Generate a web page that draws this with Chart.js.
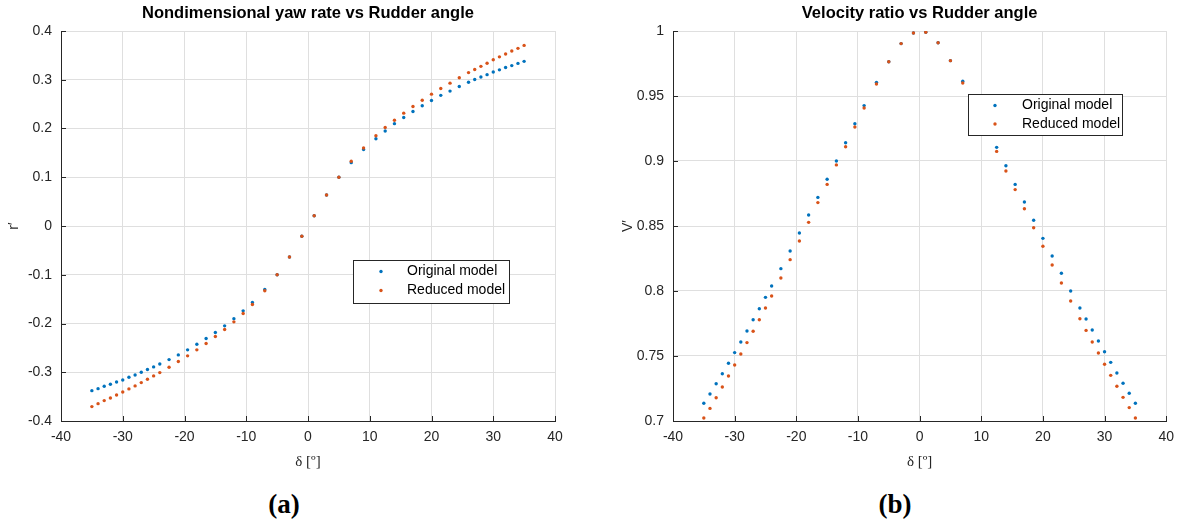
<!DOCTYPE html>
<html>
<head>
<meta charset="utf-8">
<script src="https://cdn.jsdelivr.net/npm/chart.js@4.4.1/dist/chart.umd.min.js"></script>
<style>
  body { margin: 0; background: #fff; width: 1182px; height: 525px; position: relative; overflow: hidden; }
  .panel { position: absolute; top: 0; }
  .cap { position: absolute; top: 486px; width: 100px; text-align: center;
         font: bold 27px "Liberation Serif", serif; line-height: 36px; color: #000; }
</style>
</head>
<body>
<div class="panel" style="left:0px"><canvas id="yawChart" width="590" height="480"></canvas></div>
<div class="panel" style="left:590px"><canvas id="velChart" width="592" height="480"></canvas></div>
<div class="cap" style="left:234px">(a)</div>
<div class="cap" style="left:845px">(b)</div>

<script>
// rudder angle samples (deg), same for both panels
const delta = [-35, -34, -33, -32, -31, -30, -29, -28, -27, -26, -25, -24,
  -22.5, -21, -19.5, -18, -16.5, -15, -13.5, -12, -10.5, -9,
  -7, -5, -3, -1, 1, 3, 5, 7, 9, 11,
  12.5, 14, 15.5, 17, 18.5, 20, 21.5, 23, 24.5,
  26, 27, 28, 29, 30, 31, 32, 33, 34, 35];

// (a) nondimensional yaw rate r'
const yawOriginal = [-0.3377, -0.3336, -0.3288, -0.3247, -0.3200, -0.3158, -0.3103, -0.3055, -0.3000, -0.2945, -0.2890, -0.2830,
  -0.2740, -0.2644, -0.2540, -0.2425, -0.2308, -0.2185, -0.2048, -0.1900, -0.1740, -0.1570,
  -0.1300, -0.1000, -0.0637, -0.0210, 0.0210, 0.0637, 0.1000, 0.1300, 0.1570, 0.1790,
  0.1950, 0.2100, 0.2226, 0.2350, 0.2466, 0.2575, 0.2680, 0.2767, 0.2863,
  0.2948, 0.3004, 0.3055, 0.3105, 0.3158, 0.3203, 0.3250, 0.3290, 0.3335, 0.3377];
const yawReduced = [-0.3705, -0.3644, -0.3582, -0.3527, -0.3466, -0.3404, -0.3342, -0.3280, -0.3212, -0.3144, -0.3075, -0.3007,
  -0.2897, -0.2780, -0.2664, -0.2540, -0.2410, -0.2267, -0.2123, -0.1966, -0.1795, -0.1610,
  -0.1329, -0.1000, -0.0637, -0.0210, 0.0210, 0.0637, 0.1000, 0.1329, 0.1600, 0.1850,
  0.2020, 0.2170, 0.2315, 0.2450, 0.2580, 0.2705, 0.2820, 0.2930, 0.3040,
  0.3147, 0.3210, 0.3275, 0.3340, 0.3410, 0.3470, 0.3527, 0.3590, 0.3644, 0.3705];

// (b) velocity ratio V'
const velOriginal = [0.7136, 0.7208, 0.7287, 0.7364, 0.7444, 0.7526, 0.7608, 0.7692, 0.7779, 0.7864, 0.7951, 0.8038,
  0.8172, 0.8308, 0.8446, 0.8585, 0.8720, 0.8860, 0.9000, 0.9140, 0.9287, 0.9426,
  0.9605, 0.9764, 0.9903, 0.9985, 0.9990, 0.9910, 0.9772, 0.9613, 0.9430, 0.9250,
  0.9105, 0.8964, 0.8820, 0.8685, 0.8544, 0.8405, 0.8269, 0.8136, 0.8000,
  0.7869, 0.7785, 0.7700, 0.7615, 0.7533, 0.7451, 0.7369, 0.7290, 0.7213, 0.7136];
const velReduced = [0.7023, 0.7097, 0.7179, 0.7262, 0.7346, 0.7431, 0.7515, 0.7603, 0.7690, 0.7779, 0.7869, 0.7962,
  0.8100, 0.8241, 0.8385, 0.8528, 0.8680, 0.8820, 0.8970, 0.9110, 0.9262, 0.9408,
  0.9592, 0.9764, 0.9903, 0.9985, 0.9990, 0.9910, 0.9772, 0.9600, 0.9410, 0.9220,
  0.9074, 0.8923, 0.8780, 0.8633, 0.8487, 0.8344, 0.8200, 0.8062, 0.7923,
  0.7787, 0.7697, 0.7608, 0.7523, 0.7436, 0.7351, 0.7267, 0.7182, 0.7103, 0.7023];

// tick values
const xTicks = [-40, -30, -20, -10, 0, 10, 20, 30, 40];
const yawTicks = [-0.4, -0.3, -0.2, -0.1, 0, 0.1, 0.2, 0.3, 0.4];
const velTicks = [0.7, 0.75, 0.8, 0.85, 0.9, 0.95, 1];

const seriesNames = ['Original model', 'Reduced model'];
const blue = '#0072BD';
const red = '#D95319';
const axisColor = '#262626';
const sans = '"Liberation Sans", Arial, sans-serif';

function toPoints(ys) {
  return delta.map((d, i) => ({ x: d, y: ys[i] }));
}

function fmt(v) {
  return String(Math.round(v * 100) / 100);
}

// center the title over the plot box, not the whole canvas
const titleOverAxes = {
  id: 'titleOverAxes',
  afterLayout(chart) {
    const t = chart.titleBlock;
    if (!t) return;
    t.left = chart.chartArea.left;
    t.right = chart.chartArea.right;
    t.width = t.right - t.left;
  }
};

// MATLAB style ticks pointing inside the axes
const innerTicks = {
  id: 'innerTicks',
  afterDraw(chart) {
    const ctx = chart.ctx, a = chart.chartArea;
    const xs = chart.scales.x, ys = chart.scales.y;
    ctx.save();
    ctx.strokeStyle = axisColor;
    ctx.lineWidth = 1;
    ctx.beginPath();
    xs.ticks.forEach(t => {
      const px = Math.round(xs.getPixelForValue(t.value)) + 0.5;
      ctx.moveTo(px, a.bottom);
      ctx.lineTo(px, a.bottom - 5);
    });
    ys.ticks.forEach(t => {
      const py = Math.round(ys.getPixelForValue(t.value)) + 0.5;
      ctx.moveTo(a.left, py);
      ctx.lineTo(a.left + 5, py);
    });
    ctx.stroke();
    ctx.restore();
  }
};

// boxed legend inside the axes, drawn over the points
const boxLegend = {
  id: 'boxLegend',
  afterDatasetsDraw(chart, args, opts) {
    if (!opts.box) return;
    const ctx = chart.ctx, b = opts.box;
    ctx.save();
    ctx.fillStyle = '#fff';
    ctx.fillRect(b.x, b.y, b.w, b.h);
    ctx.strokeStyle = axisColor;
    ctx.lineWidth = 1;
    ctx.strokeRect(b.x + 0.5, b.y + 0.5, b.w, b.h);
    ctx.font = '14px ' + sans;
    ctx.textBaseline = 'middle';
    chart.data.datasets.forEach((ds, i) => {
      const ry = b.y + b.rows[i];
      ctx.fillStyle = ds.backgroundColor;
      ctx.beginPath();
      ctx.arc(b.x + b.dot, ry, 1.7, 0, Math.PI * 2);
      ctx.fill();
      ctx.fillStyle = '#000';
      ctx.fillText(ds.label, b.x + b.text, ry);
    });
    ctx.restore();
  }
};

function makeChart(id, title, yLabel, orig, red_, yTickVals, opt) {
  const ctx = document.getElementById(id).getContext('2d');
  return new Chart(ctx, {
    type: 'scatter',
    data: {
      datasets: [
        { label: seriesNames[0], data: toPoints(orig), backgroundColor: blue, borderWidth: 0, pointRadius: 1.7, order: 1 },
        { label: seriesNames[1], data: toPoints(red_), backgroundColor: red, borderWidth: 0, pointRadius: 1.7, order: 0 }
      ]
    },
    options: {
      responsive: false,
      animation: false,
      layout: { padding: { top: 0, left: 0, right: opt.padRight, bottom: 0 } },
      plugins: {
        legend: { display: false },
        tooltip: { enabled: false },
        title: {
          display: true, text: title, color: '#000',
          font: { family: sans, size: 16.5, weight: 'bold' },
          padding: { top: 4, bottom: 7.2 }
        },
        boxLegend: { box: opt.legend }
      },
      scales: {
        x: {
          type: 'linear', min: -40, max: 40,
          afterBuildTicks: s => { s.ticks = xTicks.map(v => ({ value: v })); },
          afterFit: s => { s.height = 59; },
          grid: { color: '#dfdfdf', drawTicks: false },
          border: { color: axisColor, width: 1 },
          ticks: { color: axisColor, padding: 8, font: { family: sans, size: 14 }, callback: v => fmt(v) },
          title: {
            display: true, text: 'δ [º]', color: axisColor,
            font: { family: '"Liberation Serif", serif', size: 15 },
            padding: { top: 0, bottom: 9 }
          }
        },
        y: {
          type: 'linear', min: yTickVals[0], max: yTickVals[yTickVals.length - 1],
          afterBuildTicks: s => { s.ticks = yTickVals.map(v => ({ value: v })); },
          afterFit: s => { s.width = opt.yWidth; },
          grid: { color: '#dfdfdf', drawTicks: false },
          border: { color: axisColor, width: 1 },
          ticks: { color: axisColor, padding: 9, font: { family: sans, size: 14 }, callback: v => fmt(v) },
          title: {
            display: true, text: yLabel, color: axisColor,
            font: { family: sans, size: 14 },
            padding: { top: opt.yTitlePad, bottom: 0 }
          }
        }
      }
    },
    plugins: [titleOverAxes, innerTicks, boxLegend]
  });
}

makeChart('yawChart', 'Nondimensional yaw rate vs Rudder angle', 'r′', yawOriginal, yawReduced, yawTicks, {
  padRight: 35, yWidth: 61, yTitlePad: 6,
  legend: { x: 353, y: 260, w: 156, h: 43, dot: 28, text: 54, rows: [11.5, 30.5] }
});

makeChart('velChart', 'Velocity ratio vs Rudder angle', 'V′', velOriginal, velReduced, velTicks, {
  padRight: 10, yWidth: 83, yTitlePad: 29.6,
  legend: { x: 378, y: 94, w: 154, h: 41, dot: 27, text: 54, rows: [11.5, 30] }
});
</script>
</body>
</html>
